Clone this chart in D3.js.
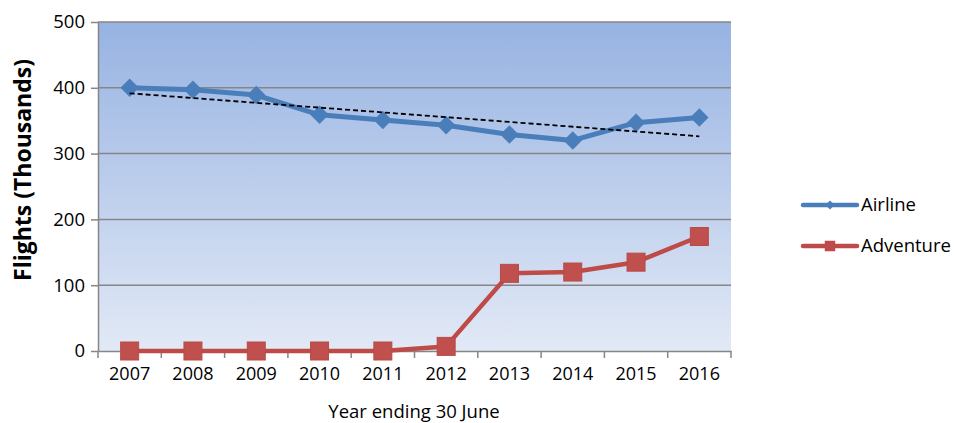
<!DOCTYPE html>
<html>
<head>
<meta charset="utf-8">
<script src="https://cdn.jsdelivr.net/npm/d3@7/dist/d3.min.js"></script>
<style>
  body { margin: 0; background: #fff; }
  text { font-family: "Open Sans", "DejaVu Sans", sans-serif; fill: #000; }
</style>
</head>
<body>
<div id="chart"></div>
<script>
var years = ['2007', '2008', '2009', '2010', '2011', '2012', '2013', '2014', '2015', '2016'];
var airline = [400, 397, 389, 359, 351, 343, 329, 320, 347, 355];
var adventure = [0, 0, 0, 0, 0, 7, 118, 120, 135, 174];
var yTicks = [0, 100, 200, 300, 400, 500];

var totalWidth = 954, totalHeight = 423;
var margin = { top: 22, right: 223, bottom: 72, left: 98 };
var width = totalWidth - margin.left - margin.right;
var height = totalHeight - margin.top - margin.bottom;

var svg = d3.select('#chart').append('svg')
    .attr('width', totalWidth)
    .attr('height', totalHeight);

var defs = svg.append('defs');
var grad = defs.append('linearGradient').attr('id', 'bg')
    .attr('x1', 0).attr('y1', 0).attr('x2', 0).attr('y2', 1);
grad.append('stop').attr('offset', '0%').attr('stop-color', '#97b3e2');
grad.append('stop').attr('offset', '100%').attr('stop-color', '#e2e9f6');

var g = svg.append('g').attr('transform', 'translate(' + margin.left + ',' + margin.top + ')');

var xScale = d3.scaleBand().domain(years).range([0, width]);
var yScale = d3.scaleLinear().domain([0, 500]).range([height, 0]);
var cx = function(i) { return xScale(years[i]) + xScale.bandwidth() / 2; };

g.append('rect').attr('width', width).attr('height', height).attr('fill', 'url(#bg)');

// gridlines
g.selectAll('.grid').data(yTicks.filter(function(d) { return d > 0; })).enter()
    .append('line')
    .attr('x1', 0).attr('x2', width)
    .attr('y1', function(d) { return yScale(d); })
    .attr('y2', function(d) { return yScale(d); })
    .attr('stroke', '#868686').attr('stroke-width', 1.5);

// y axis
var yAxis = d3.axisLeft(yScale).tickValues(yTicks).tickSizeInner(7).tickSizeOuter(0).tickPadding(6);
var yAxisGroup = g.append('g').call(yAxis);
yAxisGroup.selectAll('path, line').attr('stroke', '#868686').attr('stroke-width', 1.5);
yAxisGroup.selectAll('text').attr('font-size', 18.5).style('font-family', '"Open Sans", sans-serif').attr('fill', '#000');

// x axis
var xAxis = d3.axisBottom(xScale).tickSize(0).tickPadding(16);
var xAxisGroup = g.append('g').attr('transform', 'translate(0,' + height + ')').call(xAxis);
xAxisGroup.selectAll('path').attr('stroke', '#868686').attr('stroke-width', 1.5);
xAxisGroup.selectAll('text').attr('font-size', 18).style('font-family', '"Open Sans", sans-serif').attr('fill', '#000');
// category boundary ticks
var bounds = years.map(function(d) { return xScale(d); }).concat([width]);
xAxisGroup.selectAll('.bt').data(bounds).enter().append('line')
    .attr('x1', function(d) { return d; }).attr('x2', function(d) { return d; })
    .attr('y1', 0).attr('y2', 7)
    .attr('stroke', '#868686').attr('stroke-width', 1.5);

// trendline (linear fit of airline)
var n = airline.length;
var mx = d3.mean(d3.range(n)), my = d3.mean(airline);
var sxy = d3.sum(d3.range(n), function(i) { return (i - mx) * (airline[i] - my); });
var sxx = d3.sum(d3.range(n), function(i) { return (i - mx) * (i - mx); });
var slope = sxy / sxx, icpt = my - slope * mx;

var line = d3.line().x(function(d, i) { return cx(i); }).y(function(d) { return yScale(d); });

g.append('path').datum(airline).attr('d', line)
    .attr('fill', 'none').attr('stroke', '#4a7ebb').attr('stroke-width', 5).attr('stroke-linejoin', 'round');

g.selectAll('.dia').data(airline).enter().append('path')
    .attr('d', d3.symbol().type(d3.symbolSquare).size(170))
    .attr('transform', function(d, i) { return 'translate(' + cx(i) + ',' + yScale(d) + ') rotate(45)'; })
    .attr('fill', '#4a7ebb');

g.append('line')
    .attr('x1', cx(0)).attr('y1', yScale(icpt))
    .attr('x2', cx(n - 1)).attr('y2', yScale(icpt + slope * (n - 1)))
    .attr('stroke', '#000').attr('stroke-width', 1.8).attr('stroke-dasharray', '5,3');

g.append('path').datum(adventure).attr('d', line)
    .attr('fill', 'none').attr('stroke', '#be4b48').attr('stroke-width', 4.5).attr('stroke-linejoin', 'round');

g.selectAll('.sq').data(adventure).enter().append('rect')
    .attr('x', function(d, i) { return cx(i) - 9; })
    .attr('y', function(d) { return yScale(d) - 9; })
    .attr('width', 18).attr('height', 18)
    .attr('fill', '#c0504d').attr('stroke', '#b94a47').attr('stroke-width', 1);

// axis titles
svg.append('text')
    .attr('transform', 'translate(31,170) rotate(-90)')
    .attr('text-anchor', 'middle')
    .attr('font-size', 23).attr('font-weight', 'bold')
    .text('Flights (Thousands)');

svg.append('text')
    .attr('x', 414).attr('y', 418)
    .attr('text-anchor', 'middle')
    .attr('font-size', 18.5)
    .text('Year ending 30 June');

// legend
var legend = [
    { name: 'Airline', color: '#4a7ebb', y: 205, shape: 'diamond' },
    { name: 'Adventure', color: '#be4b48', y: 246, shape: 'square' }
];
var lg = svg.selectAll('.lg').data(legend).enter().append('g');
lg.append('line')
    .attr('x1', 803).attr('x2', 857)
    .attr('y1', function(d) { return d.y; }).attr('y2', function(d) { return d.y; })
    .attr('stroke', function(d) { return d.color; }).attr('stroke-width', 4.5).attr('stroke-linecap', 'round');
lg.append('path')
    .attr('d', function(d) {
        return d.shape === 'diamond' ? d3.symbol().type(d3.symbolSquare).size(40)() : d3.symbol().type(d3.symbolSquare).size(110)();
    })
    .attr('transform', function(d) { return 'translate(830,' + d.y + ')' + (d.shape === 'diamond' ? ' rotate(45)' : ''); })
    .attr('fill', function(d) { return d.color; });
lg.append('text')
    .attr('x', 861).attr('y', function(d) { return d.y + 6; })
    .attr('font-size', 18.5)
    .text(function(d) { return d.name; });
</script>
</body>
</html>
